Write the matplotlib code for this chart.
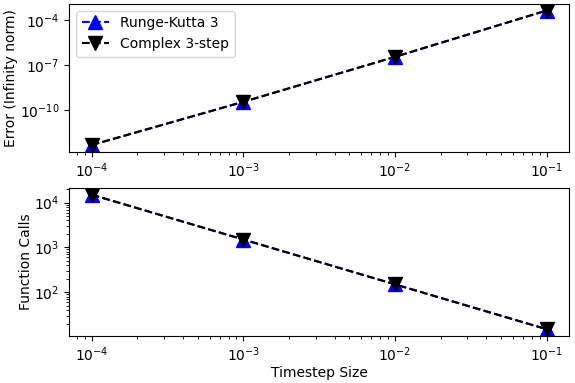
import matplotlib
matplotlib.use("Agg")
import matplotlib.pyplot as plt
from matplotlib.ticker import NullLocator

# timestep sizes
dt = [1e-4, 1e-3, 1e-2, 1e-1]

# error (infinity norm)
err_rk3 = [5.0e-13, 3.7e-10, 3.6e-7, 4.3e-4]
err_c3 = [5.0e-13, 3.7e-10, 3.6e-7, 4.3e-4]

# function calls
calls_rk3 = [15000, 1500, 150, 15]
calls_c3 = [15000, 1500, 150, 15]

fig, (ax1, ax2) = plt.subplots(2, 1, figsize=(5.75, 3.83), dpi=100)
fig.subplots_adjust(left=0.12, right=0.99, top=0.99, bottom=0.123, hspace=0.245)

ax1.loglog(dt, err_rk3, 'b^--', markersize=10, label='Runge-Kutta 3')
ax1.loglog(dt, err_c3, 'kv--', markersize=10, label='Complex 3-step')
ax1.set_yticks([1e-10, 1e-7, 1e-4])
ax1.yaxis.set_minor_locator(NullLocator())
ax1.set_ylabel('Error (Infinity norm)', labelpad=1)
ax1.legend(loc='upper left', numpoints=1)

ax2.loglog(dt, calls_rk3, 'b^--', markersize=10)
ax2.loglog(dt, calls_c3, 'kv--', markersize=10)
ax2.set_ylabel('Function Calls', labelpad=1)
ax2.set_xlabel('Timestep Size', labelpad=1)

plt.savefig('out.png')
